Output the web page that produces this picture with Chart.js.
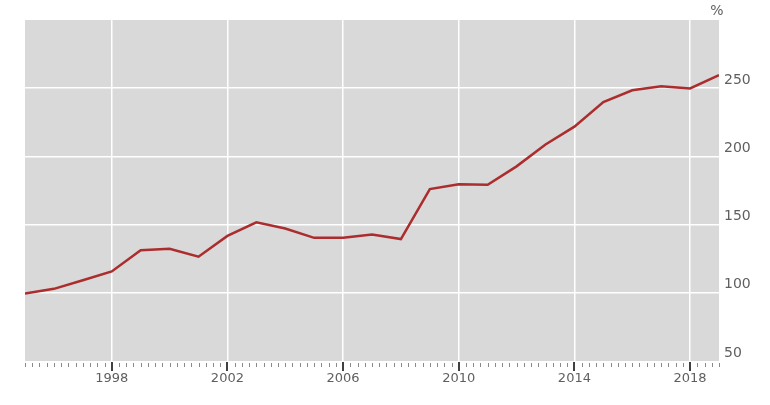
<!DOCTYPE html>
<html>
<head>
<meta charset="utf-8">
<script src="https://cdn.jsdelivr.net/npm/chart.js@4"></script>
<style>
  html, body { margin: 0; padding: 0; background: #fff; }
  #wrap { width: 770px; height: 405px; }
</style>
</head>
<body>
<div id="wrap"><canvas id="indexChart" width="770" height="405"></canvas></div>
<script>
const years = [1995, 1996, 1997, 1998, 1999, 2000, 2001, 2002, 2003, 2004, 2005, 2006,
               2007, 2008, 2009, 2010, 2011, 2012, 2013, 2014, 2015, 2016, 2017, 2018, 2019];
const values = [99.5, 102.9, 109.2, 115.7, 131.2, 132.3, 126.5, 141.7, 151.7, 147.1, 140.3, 140.4,
                142.8, 139.4, 176.0, 179.5, 179.2, 192.7, 208.7, 221.8, 239.8, 248.5, 251.5, 249.8, 259.5];
const yearLabels = [1998, 2002, 2006, 2010, 2014, 2018];
const valueLabels = [50, 100, 150, 200, 250];
const unitLabel = '%';

const textGray = '#5f5f5f';
const isMajor = v => yearLabels.includes(Math.round(v * 100) / 100);

// grey plot background + tick marks + unit label
const decor = {
    id: 'decor',
    beforeDraw(chart) {
        const { ctx, chartArea: a } = chart;
        ctx.save();
        ctx.fillStyle = '#d9d9d9';
        ctx.fillRect(a.left, a.top, a.right - a.left, a.bottom - a.top);
        ctx.restore();
    },
    afterDraw(chart) {
        const { ctx, chartArea: a } = chart;
        const xs = chart.scales.x;
        ctx.save();
        xs.ticks.forEach(t => {
            const px = Math.round(xs.getPixelForValue(t.value));
            if (isMajor(t.value)) {
                ctx.strokeStyle = '#000';
                ctx.lineWidth = 1.5;
                ctx.beginPath();
                ctx.moveTo(px, a.bottom + 1);
                ctx.lineTo(px, a.bottom + 10);
                ctx.stroke();
            } else {
                ctx.strokeStyle = '#8a8a8a';
                ctx.lineWidth = 1;
                ctx.beginPath();
                ctx.moveTo(px + 0.5, a.bottom + 2);
                ctx.lineTo(px + 0.5, a.bottom + 6);
                ctx.stroke();
            }
        });
        ctx.fillStyle = textGray;
        ctx.font = '14px "DejaVu Sans"';
        ctx.textAlign = 'center';
        ctx.textBaseline = 'middle';
        ctx.fillText(unitLabel, a.right - 2, 11);
        ctx.restore();
    }
};

const ctx = document.getElementById('indexChart').getContext('2d');
const indexChart = new Chart(ctx, {
    type: 'line',
    data: {
        datasets: [{
            data: years.map((y, i) => ({ x: y, y: values[i] })),
            borderColor: '#ab2d2d',
            borderWidth: 2.5,
            pointRadius: 0,
            tension: 0
        }]
    },
    options: {
        responsive: false,
        animation: false,
        layout: { padding: { left: 25, top: 20, right: 0, bottom: 0 } },
        plugins: { legend: { display: false }, tooltip: { enabled: false } },
        scales: {
            x: {
                type: 'linear',
                min: 1995,
                max: 2019,
                afterFit: s => { s.height = 44; },
                border: { display: false },
                grid: {
                    drawTicks: false,
                    lineWidth: 1.5,
                    color: c => isMajor(c.tick.value) ? '#ffffff' : 'rgba(0,0,0,0)'
                },
                ticks: {
                    stepSize: 0.25,
                    autoSkip: false,
                    maxRotation: 0,
                    padding: 10,
                    color: textGray,
                    font: { family: 'DejaVu Sans', size: 13 },
                    callback: v => isMajor(v) ? String(Math.round(v)) : ''
                }
            },
            y: {
                position: 'right',
                min: 50,
                max: 300,
                afterFit: s => { s.width = 51; },
                border: { display: false },
                grid: {
                    drawTicks: false,
                    lineWidth: 1.5,
                    color: c => (c.tick.value > 50 && c.tick.value < 300) ? '#ffffff' : 'rgba(0,0,0,0)'
                },
                ticks: {
                    stepSize: 50,
                    padding: 5,
                    labelOffset: -8,
                    color: textGray,
                    font: { family: 'DejaVu Sans', size: 14 },
                    callback: v => valueLabels.includes(v) ? String(v) : ''
                }
            }
        }
    },
    plugins: [decor]
});
</script>
</body>
</html>
